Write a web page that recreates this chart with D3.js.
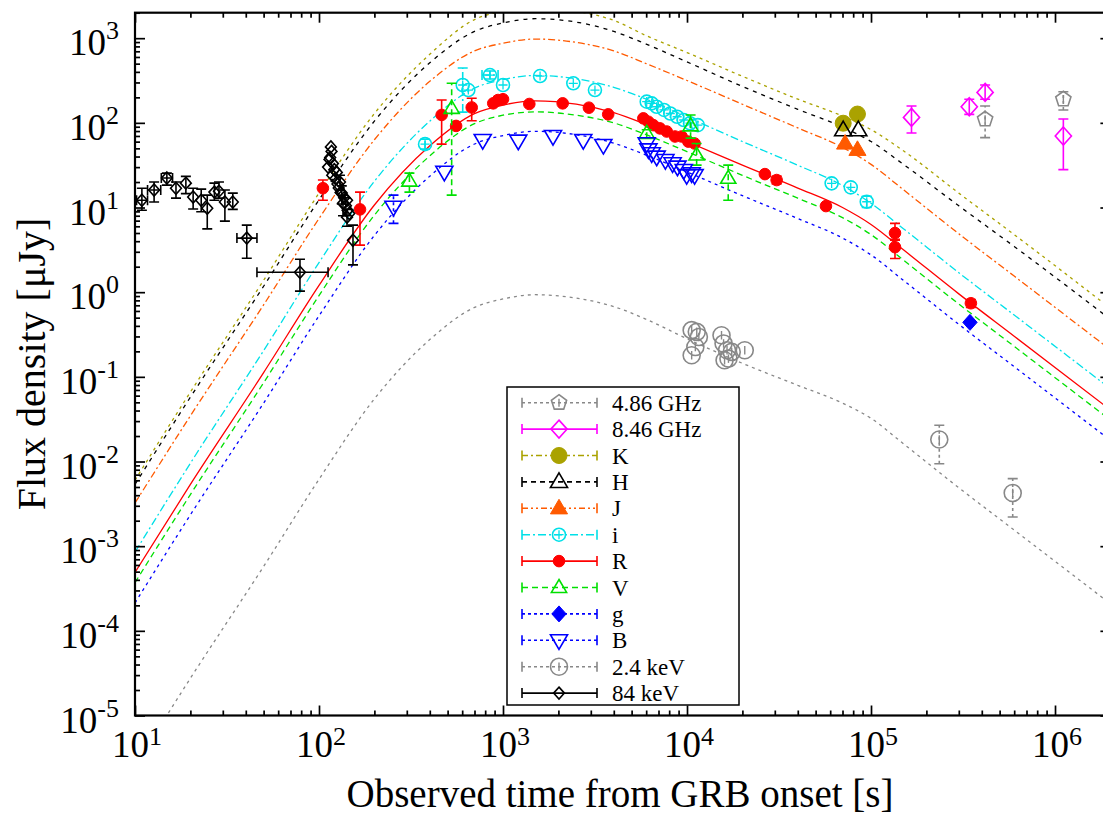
<!DOCTYPE html>
<html><head><meta charset="utf-8">
<script src="https://cdn.jsdelivr.net/npm/d3@7"></script>
<style>
body{margin:0;background:#fff}
svg{display:block}
text{font-family:"Liberation Serif","DejaVu Serif",serif;fill:#000}
</style>
</head><body>
<svg id="c" width="1103" height="814"></svg>
<script>
// ---------------- DATA ----------------
const xTickExp = [1,2,3,4,5,6];
const yTickExp = [-5,-4,-3,-2,-1,0,1,2,3];

// model curves: times (s) and log10 flux density (uJy)
const modelT    = [10,20,50,100,200,400,700,1000,1500,2500,4000,6000,1e4,2e4,4e4,7e4,1e5,1.5e5,3e5,6e5,2e6];
const modelLogK = [-2.22,-1.18,0.14,1.17,2.11,2.81,3.22,3.32,3.37,3.32,3.21,3.03,2.83,2.55,2.28,2.08,1.92,1.67,1.17,0.68,-0.19];
const modelLogH = [-2.27,-1.24,0.07,1.09,2.02,2.71,3.08,3.18,3.23,3.19,3.08,2.93,2.72,2.43,2.16,1.95,1.78,1.51,1.02,0.54,-0.32];
const modelLogJ = [-2.49,-1.46,-0.15,0.87,1.80,2.49,2.85,2.94,2.99,2.95,2.85,2.70,2.50,2.22,1.94,1.71,1.51,1.21,0.69,0.19,-0.68];
const modelLogI = [-3.07,-2.02,-0.69,0.35,1.31,2.02,2.41,2.51,2.56,2.52,2.42,2.28,2.07,1.78,1.50,1.26,1.05,0.75,0.23,-0.27,-1.14];
const modelLogR = [-3.31,-2.27,-0.95,0.08,1.03,1.73,2.11,2.21,2.26,2.22,2.12,1.98,1.78,1.50,1.23,1.00,0.80,0.50,-0.02,-0.52,-1.39];
const modelLogV = [-3.43,-2.39,-1.07,-0.04,0.91,1.61,1.99,2.09,2.13,2.09,2.00,1.86,1.66,1.38,1.11,0.88,0.68,0.38,-0.14,-0.64,-1.51];
const modelLogB = [-3.67,-2.63,-1.31,-0.28,0.67,1.37,1.75,1.85,1.90,1.86,1.76,1.62,1.42,1.14,0.87,0.64,0.44,0.14,-0.38,-0.88,-1.75];
const modelLogX = [-5.60,-4.56,-3.24,-2.21,-1.26,-0.56,-0.18,-0.08,-0.03,-0.07,-0.17,-0.32,-0.55,-0.84,-1.10,-1.31,-1.49,-1.79,-2.31,-2.81,-3.68];

// observations: [t, F, Flo, Fhi, tlo, thi]
const obsGHz486 = [[417000,110,67,158],[1110000,190,142,233]];
const obsGHz846 = [[166000,116,76,158],[342000,155,126,190],[417000,229,190,280],[1110000,70,28,111]];
const obsK = [[70600,99],[84400,127]];
const obsH = [[70600,82],[85300,82]];
const obsJ = [[72300,57],[84400,48]];
const obsI = [[377,56,49,64],[604,280,134,444],[648,244],[849,367,330,410,769,940],[1000,280],[1590,357],[2410,293],[3160,244],
  [6040,178],[6430,170],[6840,155],[7500,142],[8110,129],[8840,118],[9600,108],[10380,99],[11450,94],
  [61100,19.3],[77600,17.3],[94800,11.7,10.0,13.6]];
const obsR = [[105,16.9,12.2,21.1],[167,9.5,3.6,15.2],[464,124,56,186],[556,92],[676,152,106,195],[885,170],[940,186,165,205],[1000,190],
  [1390,167],[2110,170],[2930,151],[3730,126],[5790,113],[6170,103],[6560,94],[7130,86],[7760,79],[8610,69],[9350,69],[10170,60],[11000,57],
  [26500,24.8],[30700,21.1,19.0,23.5],[56900,10.4],[135000,5.0,4.2,6.5],[135000,3.4,2.5,4.1],[349000,0.74,0.66,0.82]];
const obsV = [[310,20.5,15.2,25.5],[526,148,14.0,293],[6040,75,66,83],[10460,92,66,124],[11280,41.6,31.7,57],[16750,22.1,12.2,31.7]];
const obsG = [[345000,0.44]];
const obsB = [[254,10.2,6.5,14.0],[480,26.4],[776,62.6],[1210,61.5],[1870,69.8],[2730,62.6],[3510,54.7],
  [6040,57.2],[6170,48.5],[6430,43.6],[6840,39.8],[7630,36.3],[8350,33.2],[8870,30.3],[9600,27.7],[9960,24.1],[10600,25.3],[11000,24.1]];
const obsKeV24 = [[10600,0.356],[11300,0.34],[11600,0.296],[11100,0.225],[10600,0.18],[15400,0.31],[15800,0.248],[16500,0.206],
  [16800,0.164],[16000,0.157],[17500,0.197],[20600,0.206],[235000,0.0182,0.0094,0.0268],[589000,0.00425,0.00221,0.00628]];
const obsKeV84 = [[10.9,12.2,9.3,16.9,10.2,11.7],[12.7,16.1,11.6,20.0,11.7,13.8],[14.9,22.3,18.4,25.5,13.9,16.0],[16.7,16.9,12.9,20.0],
  [18.9,19.4,14.6,23.3],[20.7,13.3,9.6,16.9],[22.9,12.2,8.9,16.5],[24.7,9.8,5.6,14.0],[27.0,15.2,12.2,19.4],[28.6,15.6,12.9,20.0],
  [30.8,11.6,6.9,16.1],[34.0,11.6,9.5,14.8],[40.5,4.35,2.52,6.2,35.8,46],[78.8,1.72,1.03,2.45,46,112],
  [112,30],[114,37],[115,39],[116,52],[117,46],[118,24],[119,33],[121,28],[123,22],[125,26],[126,19],[128,17],[130,20,16,24],[131,15],
  [133,14.8,11,18],[135,11.2,8,14],[137,13],[140,10.5,8,13],[142,12.2],[143,9.3],[142,7.7,6.0,9.5],[146,8.5],[153,4.1,2.1,6.2]];

// ---------------- STYLE ----------------
const series = [
  {label:"4.86 GHz", data:obsGHz486, color:"#888888", dash:"3,3", marker:"pentagon", size:8},
  {label:"8.46 GHz", data:obsGHz846, color:"#ff00ff", dash:null, marker:"diamond", size:9},
  {label:"K", data:obsK, color:"#aaa200", dash:"6,3,2,3", marker:"fcircle", size:8},
  {label:"H", data:obsH, color:"#000000", dash:"5,4", marker:"triangle", size:9},
  {label:"J", data:obsJ, color:"#ff5a00", dash:"6,3,2,3,2,3", marker:"ftriangle", size:9},
  {label:"i", data:obsI, color:"#00e0e8", dash:"8,3,2,3", marker:"ocircle", size:6.5},
  {label:"R", data:obsR, color:"#ff0000", dash:null, marker:"fcircle", size:5.8},
  {label:"V", data:obsV, color:"#00e000", dash:"6,4", marker:"triangle", size:8},
  {label:"g", data:obsG, color:"#0000ff", dash:"3,3", marker:"fdiamond", size:8},
  {label:"B", data:obsB, color:"#0000ff", dash:"3,3", marker:"itriangle", size:9},
  {label:"2.4 keV", data:obsKeV24, color:"#888888", dash:"3,3", marker:"dcircle", size:8.5},
  {label:"84 keV", data:obsKeV84, color:"#000000", dash:null, marker:"odiamond", size:6}
];
const models = [
  {logs:modelLogK, color:"#aaa200", dash:"3,4"},
  {logs:modelLogH, color:"#000000", dash:"4,5"},
  {logs:modelLogJ, color:"#ff5a00", dash:"7,3,2,3"},
  {logs:modelLogI, color:"#00e0e8", dash:"8,3,2,3"},
  {logs:modelLogR, color:"#ff0000", dash:null},
  {logs:modelLogV, color:"#00e000", dash:"6,4"},
  {logs:modelLogB, color:"#0000ff", dash:"3,4"},
  {logs:modelLogX, color:"#888888", dash:"3,4"}
];

// ---------------- CHART ----------------
const svg = d3.select("#c");
const L=135, R=1110.4, T=12.7, B=715.5;
const x = d3.scaleLog().domain([10,2e6]).range([L,R]);
const y = d3.scaleLog().domain([1e-5,2000]).range([B,T]);

svg.append("defs").append("clipPath").attr("id","clip")
  .append("rect").attr("x",L).attr("y",T).attr("width",R-L).attr("height",B-T);

const plot = svg.append("g").attr("clip-path","url(#clip)");

// models
const line = d3.line().x(d=>x(d[0])).y(d=>y(d[1])).curve(d3.curveMonotoneX);
models.forEach(m=>{
  const pts = modelT.map((t,i)=>[t, Math.pow(10,m.logs[i])]);
  plot.append("path").attr("d",line(pts)).attr("fill","none")
    .attr("stroke",m.color).attr("stroke-width",1.3)
    .attr("stroke-dasharray",m.dash);
});

function markerPath(type, s){
  const p = d3.path();
  if(type==="pentagon"){
    for(let k=0;k<5;k++){const a=-Math.PI/2+k*2*Math.PI/5; const px=s*Math.cos(a), py=s*Math.sin(a); k?p.lineTo(px,py):p.moveTo(px,py);} p.closePath();
  } else if(type==="diamond"||type==="fdiamond"||type==="odiamond"){
    p.moveTo(0,-s); p.lineTo(s*0.9,0); p.lineTo(0,s); p.lineTo(-s*0.9,0); p.closePath();
  } else if(type==="triangle"||type==="ftriangle"){
    p.moveTo(0,-s); p.lineTo(s*0.95,s*0.62); p.lineTo(-s*0.95,s*0.62); p.closePath();
  } else if(type==="itriangle"){
    p.moveTo(0,s); p.lineTo(s*0.95,-s*0.62); p.lineTo(-s*0.95,-s*0.62); p.closePath();
  } else {
    p.arc(0,0,s,0,2*Math.PI);
  }
  return p.toString();
}
function drawMarker(g, s, cx, cy){
  const filled = ["fcircle","ftriangle","fdiamond"].includes(s.marker);
  const m = g.append("g").attr("transform",`translate(${cx},${cy})`);
  m.append("path").attr("d",markerPath(s.marker,s.size))
    .attr("fill",filled?s.color:"none").attr("stroke",s.color).attr("stroke-width",filled?1:1.6);
  if(s.marker==="ocircle"){
    m.append("path").attr("d",`M${-s.size*0.7},0H${s.size*0.7}M0,${-s.size*0.7}V${s.size*0.7}`).attr("stroke",s.color).attr("stroke-width",1.3);
  }
  if(s.marker==="dcircle"||s.marker==="pentagon"){
    m.append("path").attr("d",`M0,${-s.size*0.5}V${s.size*0.5}`).attr("stroke",s.color).attr("stroke-width",1.4);
  }
}

series.forEach(s=>{
  const g = plot.append("g");
  s.data.forEach(d=>{
    const cx=x(d[0]), cy=y(d[1]);
    const eb = g.append("g").attr("stroke",s.color).attr("stroke-width",1.6).attr("fill","none");
    if(d[2]!=null && d[3]!=null){
      const y1=y(d[2]), y2=y(d[3]);
      eb.append("path").attr("d",`M${cx},${y1}V${y2}`).attr("stroke-dasharray",s.dash);
      eb.append("path").attr("d",`M${cx-5},${y1}H${cx+5}M${cx-5},${y2}H${cx+5}`);
    }
    if(d[4]!=null && d[5]!=null){
      const x1=x(d[4]), x2=x(d[5]);
      eb.append("path").attr("d",`M${x1},${cy}H${x2}`).attr("stroke-dasharray",s.dash);
      eb.append("path").attr("d",`M${x1},${cy-5}V${cy+5}M${x2},${cy-5}V${cy+5}`);
    }
    drawMarker(g, s, cx, cy);
  });
});

// axes
const xMajor = xTickExp.map(e=>Math.pow(10,e));
const yMajor = yTickExp.map(e=>Math.pow(10,e));
const xMinor=[], yMinor=[];
for(let e=1;e<=6;e++) for(let m=2;m<=9;m++){const v=m*Math.pow(10,e); if(v<=2e6) xMinor.push(v);}
for(let e=-5;e<=3;e++) for(let m=2;m<=9;m++){const v=m*Math.pow(10,e); if(v<=2000) yMinor.push(v);}

function axis(gen, tr, vals, size){
  const g = svg.append("g").attr("transform",tr)
    .call(gen.tickValues(vals).tickSize(size).tickSizeOuter(0).tickFormat(""));
  g.select(".domain").remove();
  g.selectAll(".tick line").attr("stroke","#000").attr("stroke-width",1.7);
}
axis(d3.axisBottom(x),`translate(0,${B})`,xMajor,-10);
axis(d3.axisBottom(x),`translate(0,${B})`,xMinor,-5);
axis(d3.axisTop(x),`translate(0,${T})`,xMajor,-10);
axis(d3.axisTop(x),`translate(0,${T})`,xMinor,-5);
axis(d3.axisLeft(y),`translate(${L},0)`,yMajor,-10);
axis(d3.axisLeft(y),`translate(${L},0)`,yMinor,-5);
axis(d3.axisRight(y),`translate(${R},0)`,yMajor,-10);
axis(d3.axisRight(y),`translate(${R},0)`,yMinor,-5);

svg.append("rect").attr("x",L).attr("y",T).attr("width",R-L).attr("height",B-T)
  .attr("fill","none").attr("stroke","#000").attr("stroke-width",2.2);

// tick labels
xTickExp.forEach(e=>{
  const t = svg.append("text").attr("x",x(Math.pow(10,e))+2).attr("y",757).attr("text-anchor","middle").attr("font-size",37);
  t.append("tspan").text("10");
  t.append("tspan").attr("dy",-12).attr("font-size",26).text(e);
});
yTickExp.forEach(e=>{
  const t = svg.append("text").attr("x",119).attr("y",y(Math.pow(10,e))+17).attr("text-anchor","end").attr("font-size",37);
  t.append("tspan").text("10");
  t.append("tspan").attr("dy",-16).attr("font-size",26).text(e);
});

// axis titles
svg.append("text").attr("x",620).attr("y",807).attr("text-anchor","middle").attr("font-size",39)
  .text("Observed time from GRB onset [s]");
svg.append("text").attr("transform","translate(45,364) rotate(-90)").attr("text-anchor","middle").attr("font-size",40)
  .text("Flux density [μJy]");

// legend
const lg = svg.append("g");
lg.append("rect").attr("x",507).attr("y",387).attr("width",232).attr("height",318)
  .attr("fill","#fff").attr("stroke","#000").attr("stroke-width",1.5);
series.forEach((s,i)=>{
  const cy = 402.7 + i*26.4;
  const g = lg.append("g");
  g.append("path").attr("d",`M522,${cy}H597`).attr("stroke",s.color).attr("stroke-width",1.6).attr("stroke-dasharray",s.dash);
  g.append("path").attr("d",`M522,${cy-5}V${cy+5}M597,${cy-5}V${cy+5}`).attr("stroke",s.color).attr("stroke-width",1.6);
  drawMarker(g, s, 559, cy);
  g.append("text").attr("x",612).attr("y",cy+8).attr("font-size",23).text(s.label);
});
</script>
</body></html>
